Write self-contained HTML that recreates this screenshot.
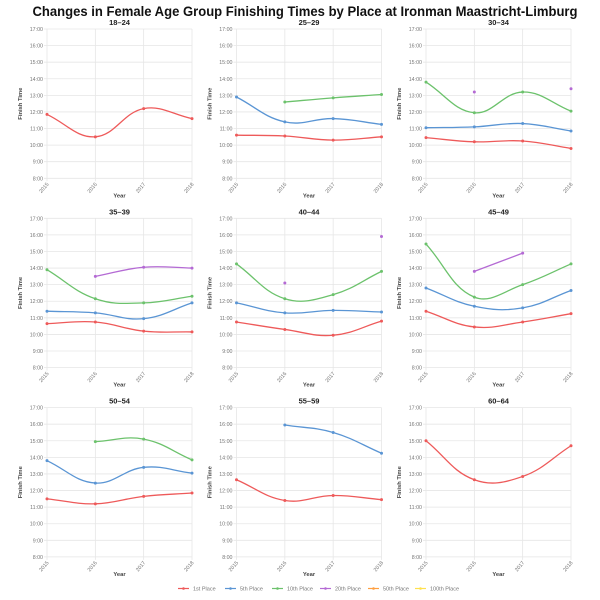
<!DOCTYPE html>
<html><head><meta charset="utf-8"><style>
body{margin:0;background:#fff;}
svg{display:block;font-family:"Liberation Sans",Arial,sans-serif;}
</style></head><body>
<svg id="s" width="600" height="600" xmlns="http://www.w3.org/2000/svg">
<text x="305" y="16" text-anchor="middle" font-size="13.5" font-weight="bold" fill="#111" textLength="545" lengthAdjust="spacingAndGlyphs">Changes in Female Age Group Finishing Times by Place at Ironman Maastricht-Limburg</text>
</svg>
<script>
const C=["#ee5a5a","#5a95d4","#6cc26c","#b46ad4","#ff9f40","#ffe14d"];
const P=[
["18-24",[[11.85,10.5,12.2,11.6]]],
["25-29",[[10.6,10.55,10.3,10.5],[12.9,11.4,11.6,11.25],[null,12.6,12.85,13.05]]],
["30-34",[[10.45,10.2,10.25,9.8],[11.05,11.1,11.3,10.85],[13.8,11.95,13.2,12.05],[null,13.2,null,13.4]]],
["35-39",[[10.65,10.75,10.2,10.15],[11.4,11.3,10.95,11.9],[13.9,12.15,11.9,12.3],[null,13.5,14.05,14.0]]],
["40-44",[[10.75,10.3,9.95,10.8],[11.9,11.3,11.45,11.35],[14.25,12.15,12.4,13.8],[null,13.1,null,15.9]]],
["45-49",[[11.4,10.45,10.75,11.25],[12.8,11.7,11.6,12.65],[15.45,12.25,13.0,14.25],[null,13.8,14.9,null]]],
["50-54",[[11.5,11.2,11.65,11.85],[13.8,12.45,13.4,13.05],[null,14.95,15.1,13.85]]],
["55-59",[[12.65,11.4,11.7,11.45],[null,15.95,15.5,14.25]]],
["60-64",[[15.0,12.65,12.85,14.7]]]
];
const s=document.getElementById('s');let h='';
const X0=[47,236.5,426],Y0=[29,218.3,407.6],W=145,H=149.3;
function curve(pts){
 let d=`M${pts[0][0]},${pts[0][1]}`;const t=0.4;const cp=[];
 for(let i=0;i<pts.length;i++){const p=pts[i],pr=pts[i-1]||p,nx=pts[i+1]||p;
  const d01=Math.hypot(p[0]-pr[0],p[1]-pr[1]),d12=Math.hypot(nx[0]-p[0],nx[1]-p[1]);
  let fa=d01/(d01+d12)||0,fb=d12/(d01+d12)||0;fa*=t;fb*=t;
  cp.push([[p[0]-fa*(nx[0]-pr[0]),p[1]-fa*(nx[1]-pr[1])],[p[0]+fb*(nx[0]-pr[0]),p[1]+fb*(nx[1]-pr[1])]]);}
 for(let i=1;i<pts.length;i++)d+=` C${cp[i-1][1][0]},${cp[i-1][1][1]} ${cp[i][0][0]},${cp[i][0][1]} ${pts[i][0]},${pts[i][1]}`;
 return d;}
P.forEach((p,k)=>{const x0=X0[k%3],y0=Y0[Math.floor(k/3)];
 const xs=i=>x0+i*W/3,ys=v=>y0+(17-v)*H/9;
 h+=`<text x="${x0+W/2}" y="${y0-4}" text-anchor="middle" font-size="7.5" font-weight="bold" fill="#222">${p[0].replace('-','–')}</text>`;
 for(let v=8;v<=17;v++){const y=ys(v);h+=`<line x1="${x0-3}" x2="${x0+W}" y1="${y}" y2="${y}" stroke="#e6e6e6" stroke-width="0.8"/><text x="${x0-4}" y="${y+2}" text-anchor="end" font-size="5.3" fill="#777">${v}:00</text>`;}
 for(let i=0;i<4;i++){const x=xs(i);h+=`<line x1="${x}" x2="${x}" y1="${y0}" y2="${y0+H+3}" stroke="#e6e6e6" stroke-width="0.8"/><text transform="translate(${x+2},${y0+H+6}) rotate(-50)" text-anchor="end" font-size="5.3" fill="#777">${2015+i}</text>`;}
 h+=`<text x="${x0+W/2}" y="${y0+H+19}" text-anchor="middle" font-size="5.8" font-weight="bold" fill="#444">Year</text>`;
 h+=`<text transform="translate(${x0-25},${y0+H/2}) rotate(-90)" text-anchor="middle" font-size="5.8" font-weight="bold" fill="#444">Finish Time</text>`;
 p[1].forEach((ser,j)=>{let seg=[];const segs=[];ser.forEach((v,i)=>{if(v==null){if(seg.length)segs.push(seg);seg=[];}else seg.push([xs(i),ys(v)]);});if(seg.length)segs.push(seg);
  segs.forEach(sg=>{if(sg.length>1)h+=`<path d="${curve(sg)}" fill="none" stroke="${C[j]}" stroke-width="1.3"/>`;sg.forEach(q=>h+=`<circle cx="${q[0]}" cy="${q[1]}" r="1.5" fill="${C[j]}"/>`);});});
});
const L=["1st Place","5th Place","10th Place","20th Place","50th Place","100th Place"];
const LX=[178,225,272,320,368,415];
L.forEach((l,i)=>{const x=LX[i];h+=`<line x1="${x}" x2="${x+11}" y1="588.5" y2="588.5" stroke="${C[i]}" stroke-width="1.2"/><circle cx="${x+5.5}" cy="588.5" r="1.3" fill="${C[i]}"/><text x="${x+15}" y="590.5" font-size="5.5" fill="#777">${l}</text>`;});
s.insertAdjacentHTML('beforeend',h);
</script>
</body></html>
